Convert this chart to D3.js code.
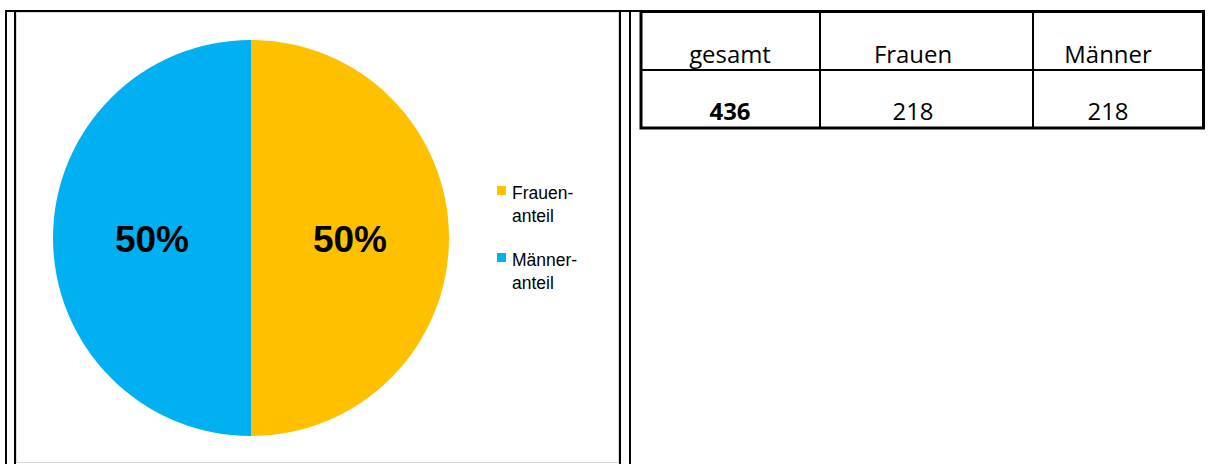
<!DOCTYPE html>
<html>
<head>
  <meta charset="utf-8">
  <script type="text/javascript" src="https://cdn.jsdelivr.net/npm/d3@7/dist/d3.min.js"></script>
  <style>
    body { margin: 0; background: #fff; }
    svg { display: block; }
  </style>
</head>
<body>
  <svg></svg>
<script>
  // pie data
  const categories = ['Frauenanteil', 'Männeranteil'];
  const legendLines = [['Frauen-', 'anteil'], ['Männer-', 'anteil']];
  const counts = [218, 218];
  const colors = ['#FFC000', '#00B0F0'];

  // table data
  const tableHeaders = ['gesamt', 'Frauen', 'Männer'];
  const tableValues = [436, 218, 218];

  const W = 1211, H = 464;
  const svg = d3.select('svg').attr('width', W).attr('height', H);

  // frame lines of the surrounding document table
  const frame = svg.append('g').attr('stroke', '#000').attr('stroke-width', 2);
  frame.append('line').attr('x1', 5).attr('x2', 1205).attr('y1', 11).attr('y2', 11);
  [6, 15, 620, 630].forEach(x => {
    frame.append('line').attr('x1', x).attr('x2', x).attr('y1', 10).attr('y2', H);
  });

  // chart area border
  svg.append('rect')
    .attr('x', 16.5).attr('y', 12.5)
    .attr('width', 602).attr('height', 450)
    .attr('fill', '#fff')
    .attr('stroke', '#d9d9d9');

  // pie
  const cx = 251, cy = 238, r = 198;
  const pie = d3.pie().sort(null).value(d => d);
  const arcs = pie(counts);
  const arc = d3.arc().innerRadius(0).outerRadius(r);
  const labelArc = d3.arc().innerRadius(r / 2).outerRadius(r / 2);
  const total = d3.sum(counts);

  const g = svg.append('g').attr('transform', `translate(${cx},${cy})`);
  g.selectAll('path')
    .data(arcs)
    .enter()
    .append('path')
    .attr('d', arc)
    .attr('fill', (d, i) => colors[i]);

  g.selectAll('text')
    .data(arcs)
    .enter()
    .append('text')
    .attr('x', d => labelArc.centroid(d)[0])
    .attr('y', d => labelArc.centroid(d)[1] + 14)
    .attr('text-anchor', 'middle')
    .style('font-family', 'Liberation Sans, Arial, sans-serif')
    .style('font-weight', 'bold')
    .style('font-size', '37px')
    .text(d => Math.round(d.data / total * 100) + '%');

  // legend
  const legend = svg.append('g').attr('transform', 'translate(497, 186)');
  const items = legend.selectAll('g')
    .data(categories)
    .enter()
    .append('g')
    .attr('transform', (d, i) => `translate(0, ${i * 67})`);
  items.append('rect')
    .attr('width', 9).attr('height', 9)
    .attr('fill', (d, i) => colors[i]);
  items.append('text')
    .attr('y', 13)
    .style('font-family', 'Liberation Sans, Arial, sans-serif')
    .style('font-size', '17.5px')
    .attr('fill', '#000')
    .selectAll('tspan')
    .data((d, i) => legendLines[i])
    .enter()
    .append('tspan')
    .attr('x', 15)
    .attr('dy', (d, i) => i === 0 ? 0 : 23)
    .text(d => d);

  // table on the right
  const tx0 = 641, tx1 = 1203.5, ty0 = 11.5, ty1 = 128;
  const colEdges = [tx0, 820, 1033, tx1];
  const colCenters = [730, 913, 1108];
  const table = svg.append('g');
  table.append('rect')
    .attr('x', tx0).attr('y', ty0)
    .attr('width', tx1 - tx0).attr('height', ty1 - ty0)
    .attr('fill', 'none')
    .attr('stroke', '#000')
    .attr('stroke-width', 3);
  table.append('line')
    .attr('x1', tx0).attr('x2', tx1)
    .attr('y1', 70).attr('y2', 70)
    .attr('stroke', '#000').attr('stroke-width', 2);
  colEdges.slice(1, 3).forEach(x => {
    table.append('line')
      .attr('x1', x).attr('x2', x)
      .attr('y1', ty0).attr('y2', ty1)
      .attr('stroke', '#000').attr('stroke-width', 2);
  });
  const sx = 1.04;
  table.selectAll('.head')
    .data(tableHeaders)
    .enter()
    .append('text')
    .attr('transform', (d, i) => `translate(${colCenters[i]}, 63) scale(${sx}, 1)`)
    .attr('text-anchor', 'middle')
    .style('font-family', 'Open Sans, sans-serif')
    .style('font-size', '23px')
    .text(d => d);
  table.selectAll('.val')
    .data(tableValues)
    .enter()
    .append('text')
    .attr('transform', (d, i) => `translate(${colCenters[i]}, 120) scale(${sx}, 1)`)
    .attr('text-anchor', 'middle')
    .style('font-family', 'Open Sans, sans-serif')
    .style('font-size', '23px')
    .style('font-weight', (d, i) => i === 0 ? 'bold' : 'normal')
    .text(d => d);
</script>
</body>
</html>
